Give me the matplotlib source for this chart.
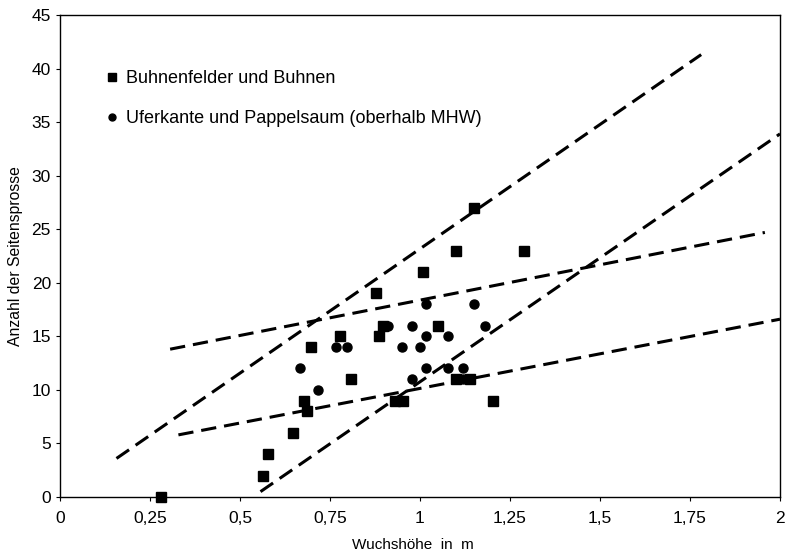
import matplotlib
matplotlib.use('Agg')
import matplotlib.pyplot as plt

plt.rcParams['font.family'] = ['Liberation Sans', 'DejaVu Sans']

# Buhnenfelder und Buhnen (squares)
buhnen_x = [0.28, 0.565, 0.577, 0.647, 0.678, 0.687, 0.697, 0.778, 0.808, 0.878,
            0.887, 0.897, 0.93, 0.952, 1.008, 1.049, 1.10, 1.10, 1.14, 1.151, 1.202, 1.29]
buhnen_y = [0, 2, 4, 6, 9, 8, 14, 15, 11, 19,
            15, 16, 9, 9, 21, 16, 23, 11, 11, 27, 9, 23]

# Uferkante und Pappelsaum (circles)
ufer_x = [0.667, 0.717, 0.767, 0.798, 0.91, 0.935, 0.949, 0.978, 0.978, 0.999,
          1.018, 1.018, 1.018, 1.079, 1.079, 1.12, 1.12, 1.151, 1.18]
ufer_y = [12, 10, 14, 14, 16, 9, 14, 16, 11, 14,
          18, 15, 12, 15, 12, 12, 11, 18, 16]

# dashed lines (start x, end x, start y, end y)
lines_x = [[0.157, 1.781], [0.557, 2.0], [0.306, 1.958], [0.329, 2.0]]
lines_y = [[3.6, 41.3], [0.5, 33.9], [13.8, 24.7], [5.8, 16.6]]

x_ticks = [0, 0.25, 0.5, 0.75, 1, 1.25, 1.5, 1.75, 2]
x_labels = ['0', '0,25', '0,5', '0,75', '1', '1,25', '1,5', '1,75', '2']

fig = plt.figure(figsize=(7.89, 5.55), dpi=100)
ax = fig.add_axes([0.076, 0.1045, 0.9126, 0.8685])

for lx, ly in zip(lines_x, lines_y):
    ax.plot(lx, ly, color='black', linewidth=2.2, linestyle=(0, (5, 2.6)),
            dash_capstyle='butt', zorder=2)

sq, = ax.plot(buhnen_x, buhnen_y, linestyle='none', marker='s', markersize=6.5,
              color='black', label='Buhnenfelder und Buhnen', zorder=3, clip_on=False)
ci, = ax.plot(ufer_x, ufer_y, linestyle='none', marker='o', markersize=6.5,
              color='black', label='Uferkante und Pappelsaum (oberhalb MHW)', zorder=3)

ax.set_xlim(0, 2)
ax.set_ylim(0, 45)
ax.set_xticks(x_ticks)
ax.set_xticklabels(x_labels)
ax.set_yticks(range(0, 46, 5))
ax.tick_params(axis='both', direction='out', length=3, width=0.8, labelsize=12.5)
ax.tick_params(axis='x', pad=7)
for s in ax.spines.values():
    s.set_linewidth(1.0)

ax.set_xlabel('Wuchshöhe  in  m', fontsize=11, labelpad=12)
ax.xaxis.set_label_coords(0.49, -0.085)
ax.set_ylabel('Anzahl der Seitensprosse', fontsize=11.3, labelpad=6)

leg = ax.legend(handles=[sq, ci], loc='upper left', bbox_to_anchor=(0.055, 0.90),
                frameon=False, fontsize=13, handlelength=0.6, handletextpad=0.45,
                labelspacing=1.25, borderaxespad=0)
leg.legend_handles[0].set_markersize(6)
leg.legend_handles[1].set_markersize(5)

fig.savefig('out.png', dpi=100)
